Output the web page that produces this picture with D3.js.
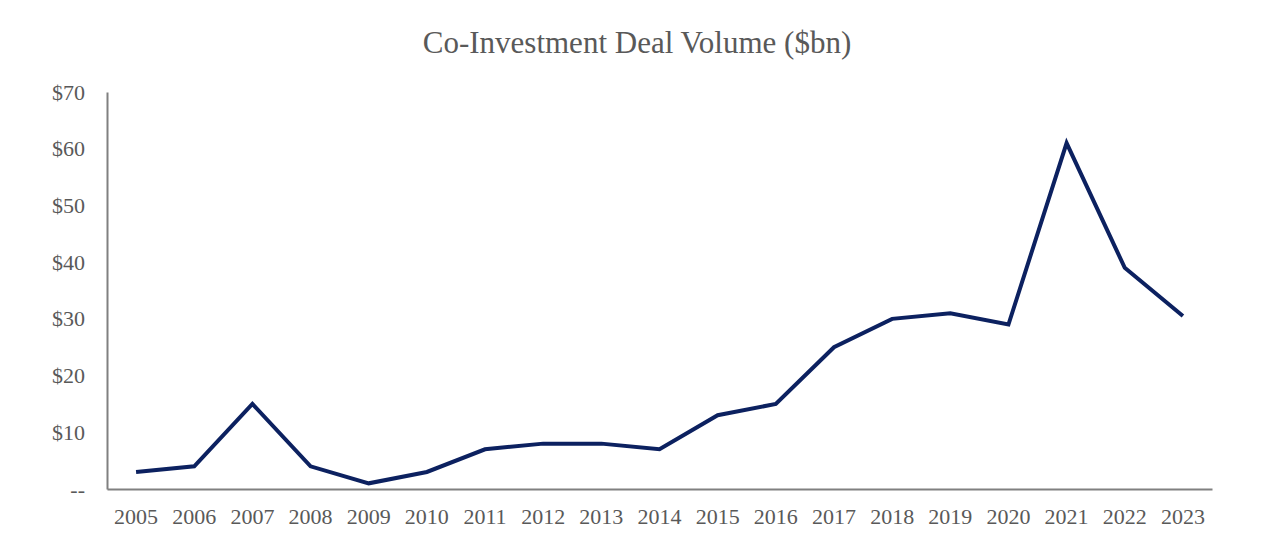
<!DOCTYPE html>
<html><head><meta charset="utf-8">
<script src="https://cdn.jsdelivr.net/npm/d3@7"></script>
<style>body{margin:0;background:#fff}svg{display:block}</style>
</head><body><svg id="c" width="1276" height="554"></svg>
<script>
const years = ["2005","2006","2007","2008","2009","2010","2011","2012","2013","2014","2015","2016","2017","2018","2019","2020","2021","2022","2023"];
const volumes = [3,4,15,4,1,3,7,8,8,7,13,15,25,30,31,29,61,39,30.5];
const yTicks = [0,10,20,30,40,50,60,70];
const title = "Co-Investment Deal Volume ($bn)";

const svg = d3.select("#c");
const m = {l:107, r:1212, t:92, b:489};
const font = "'Liberation Serif', 'DejaVu Serif', serif";
const x = d3.scaleBand().domain(years).range([m.l, m.r]);
const y = d3.scaleLinear().domain([0,70]).range([m.b, m.t]);

svg.append("text").attr("x",637).attr("y",53).attr("text-anchor","middle")
  .attr("font-family",font).attr("font-size",31).attr("fill","#595959").text(title);

const ya = svg.append("g").attr("transform",`translate(${m.l},0)`)
  .call(d3.axisLeft(y).tickValues(yTicks).tickSize(0).tickPadding(22)
    .tickFormat(d => d===0 ? "--" : "$"+d));
ya.select(".domain").attr("stroke","#808080").attr("stroke-width",2);
ya.selectAll("text").attr("font-family",font).attr("font-size",22).attr("fill","#595959");

const xa = svg.append("g").attr("transform",`translate(0,${m.b})`)
  .call(d3.axisBottom(x).tickSize(0).tickPadding(19));
xa.select(".domain").attr("stroke","#808080").attr("stroke-width",2);
xa.selectAll("text").attr("font-family",font).attr("font-size",22).attr("fill","#595959");

const line = d3.line().x((d,i)=>x(years[i])+x.bandwidth()/2).y(d=>y(d));
svg.append("path").datum(volumes).attr("d",line).attr("fill","none")
  .attr("stroke","#0c2160").attr("stroke-width",4).attr("stroke-linejoin","miter");
</script></body></html>
